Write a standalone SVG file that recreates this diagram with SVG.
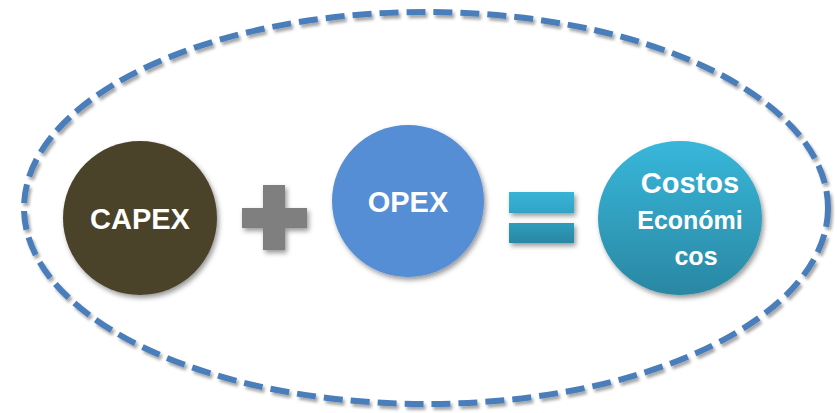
<svg xmlns="http://www.w3.org/2000/svg" width="837" height="413" viewBox="0 0 837 413">
<style>
.t{font-family:"Liberation Sans",Arial,sans-serif;font-weight:bold;fill:#fff;text-anchor:middle}
</style>
<defs>
<filter id="sh" x="-20%" y="-20%" width="140%" height="140%">
<feDropShadow dx="2" dy="3" stdDeviation="2.5" flood-color="#000" flood-opacity="0.4"/>
</filter>
<filter id="shl" x="-5%" y="-5%" width="110%" height="110%">
<feDropShadow dx="2" dy="3" stdDeviation="1.5" flood-color="#000" flood-opacity="0.35"/>
</filter>
<linearGradient id="gc" x1="0" y1="0" x2="0" y2="1">
<stop offset="0" stop-color="#38b7da"/>
<stop offset="1" stop-color="#2a87a3"/>
</linearGradient>
<linearGradient id="ge1" x1="0" y1="0" x2="0" y2="1">
<stop offset="0" stop-color="#37b4d7"/>
<stop offset="1" stop-color="#32a4c5"/>
</linearGradient>
<linearGradient id="ge2" x1="0" y1="0" x2="0" y2="1">
<stop offset="0" stop-color="#2f9dbd"/>
<stop offset="1" stop-color="#2a87a3"/>
</linearGradient>
</defs>
<g id="frame">
<ellipse cx="426" cy="208" rx="402" ry="196" fill="none" stroke="#4a7ebb" stroke-width="6" stroke-dasharray="19 8" filter="url(#shl)"/>
</g>
<g id="capex">
<circle cx="140" cy="218" r="77" fill="#4b432c" filter="url(#sh)"/>
<text class="t" x="140" y="229" font-size="29">CAPEX</text>
</g>
<g id="plus" filter="url(#sh)">
<path d="M263 185H285V208H307V228H285V250H263V228H242V208H263Z" fill="#7f7f7f"/>
</g>
<g id="opex">
<circle cx="408" cy="201" r="76" fill="#558ed5" filter="url(#sh)"/>
<text class="t" x="408" y="212" font-size="29">OPEX</text>
</g>
<g id="equals" filter="url(#sh)">
<rect x="509" y="192" width="65" height="21" fill="url(#ge1)"/>
<rect x="509" y="223" width="65" height="20" fill="url(#ge2)"/>
</g>
<g id="costos">
<ellipse cx="680" cy="218" rx="82" ry="77" fill="url(#gc)" filter="url(#sh)"/>
<text class="t" x="690" y="193" font-size="29">Costos</text>
<text class="t" x="690" y="229" font-size="25">Económi</text>
<text class="t" x="696" y="265" font-size="25">cos</text>
</g>
</svg>
